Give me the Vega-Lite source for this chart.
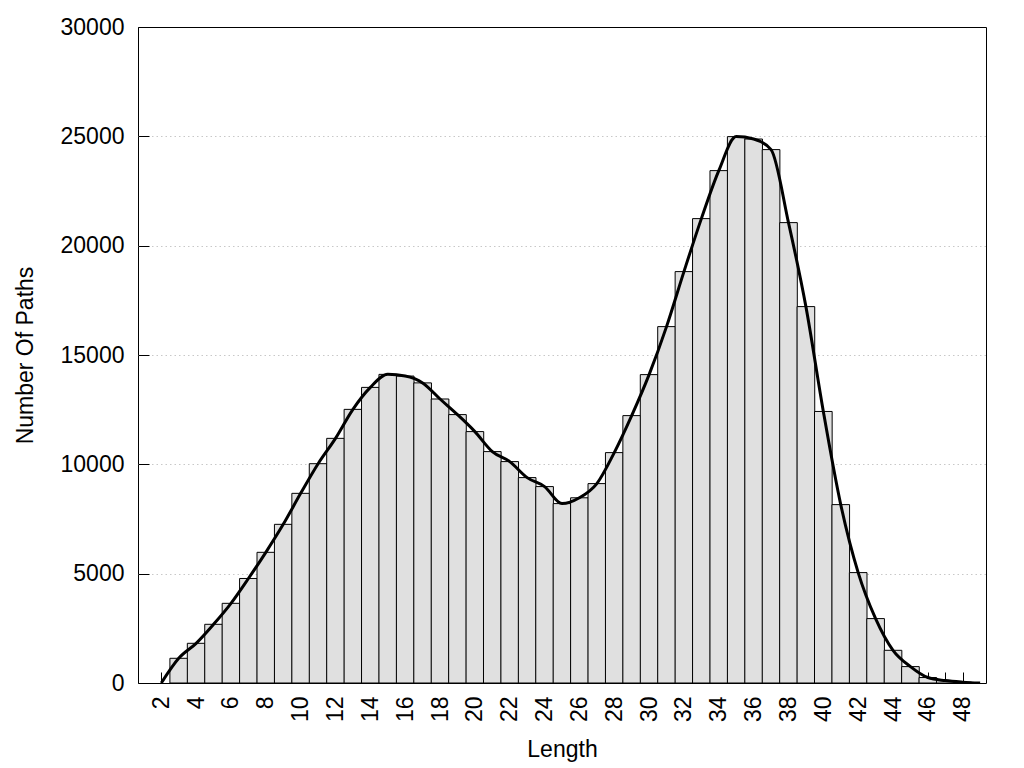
{
  "$schema": "https://vega.github.io/schema/vega-lite/v6.json",
  "width": 848,
  "height": 656,
  "autosize": {"type": "none"},
  "padding": {"left": 138, "top": 27, "right": 38, "bottom": 85},
  "background": "white",
  "config": {
    "font": "Liberation Sans",
    "view": {"stroke": "black", "strokeWidth": 1}
  },
  "data": {"values": [
    {"len": 2, "count": 0}, {"len": 3, "count": 1130}, {"len": 4, "count": 1815}, {"len": 5, "count": 2684},
    {"len": 6, "count": 3644}, {"len": 7, "count": 4780}, {"len": 8, "count": 5976}, {"len": 9, "count": 7256},
    {"len": 10, "count": 8674}, {"len": 11, "count": 10029}, {"len": 12, "count": 11188}, {"len": 13, "count": 12514},
    {"len": 14, "count": 13519}, {"len": 15, "count": 14114}, {"len": 16, "count": 14037}, {"len": 17, "count": 13725},
    {"len": 18, "count": 12988}, {"len": 19, "count": 12274}, {"len": 20, "count": 11497}, {"len": 21, "count": 10582},
    {"len": 22, "count": 10125}, {"len": 23, "count": 9393}, {"len": 24, "count": 8982}, {"len": 25, "count": 8204},
    {"len": 26, "count": 8470}, {"len": 27, "count": 9119}, {"len": 28, "count": 10536}, {"len": 29, "count": 12228},
    {"len": 30, "count": 14103}, {"len": 31, "count": 16298}, {"len": 32, "count": 18814}, {"len": 33, "count": 21237},
    {"len": 34, "count": 23432}, {"len": 35, "count": 24987}, {"len": 36, "count": 24877}, {"len": 37, "count": 24393},
    {"len": 38, "count": 21054}, {"len": 39, "count": 17213}, {"len": 40, "count": 12418}, {"len": 41, "count": 8158},
    {"len": 42, "count": 5049}, {"len": 43, "count": 2945}, {"len": 44, "count": 1495}, {"len": 45, "count": 750},
    {"len": 46, "count": 250}, {"len": 47, "count": 110}, {"len": 48, "count": 40}, {"len": 49, "count": 0}
  ]},
  "encoding": {
    "x": {
      "field": "len", "type": "quantitative",
      "scale": {"domain": [0.95, 49.05], "nice": false, "zero": false},
      "axis": {
        "title": "Length",
        "titleFontSize": 23, "titleFontWeight": "normal", "titleColor": "black",
        "titleX": 424, "titleY": 66, "titleBaseline": "middle",
        "values": [2,3,4,5,6,7,8,9,10,11,12,13,14,15,16,17,18,19,20,21,22,23,24,25,26,27,28,29,30,31,32,33,34,35,36,37,38,39,40,41,42,43,44,45,46,47,48],
        "labelExpr": "datum.value % 2 == 0 ? datum.label : ''",
        "labelAngle": -90, "labelFontSize": 23, "labelColor": "black",
        "labelPadding": 24, "labelFlush": false, "labelOverlap": false, "labelBound": false,
        "tickSize": -11, "tickColor": "black", "tickWidth": 1,
        "domain": false, "grid": false
      }
    },
    "y": {
      "field": "count", "type": "quantitative",
      "scale": {"domain": [0, 30000], "nice": false},
      "axis": {
        "title": "Number Of Paths",
        "titleFontSize": 23, "titleFontWeight": "normal", "titleColor": "black",
        "titleX": -113, "titleY": 328, "titleBaseline": "middle", "titleAngle": -90,
        "values": [0, 5000, 10000, 15000, 20000, 25000, 30000],
        "format": "d",
        "labelFontSize": 23, "labelColor": "black", "labelPadding": 25, "labelFlush": false,
        "tickSize": -11, "tickColor": "black", "tickWidth": 1,
        "domain": false,
        "grid": true, "gridColor": "#c8c8c8", "gridDash": [1.5, 3], "gridWidth": 1,
        "gridOpacity": {"condition": {"test": "datum.value == 0 || datum.value == 30000", "value": 0}, "value": 1}
      }
    }
  },
  "layer": [
    {
      "transform": [{"filter": "datum.count > 0"}],
      "mark": {"type": "bar", "width": 17.63, "fill": "#e0e0e0", "stroke": "black", "strokeWidth": 1}
    },
    {
      "mark": {"type": "line", "color": "black", "strokeWidth": 3, "interpolate": "monotone", "clip": true}
    }
  ]
}
